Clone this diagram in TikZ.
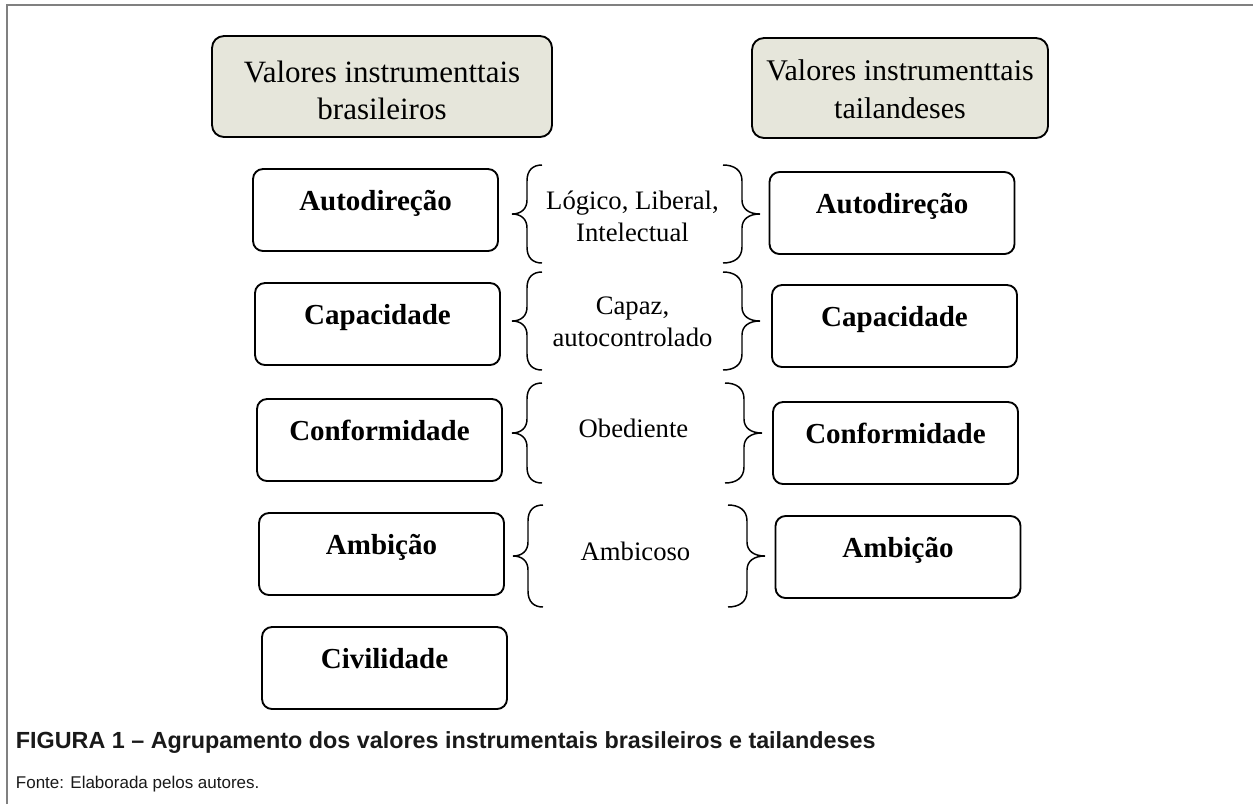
\documentclass[tikz,border=0pt]{standalone}
\usepackage{fontspec}
\setmainfont{Liberation Serif}
\setsansfont{Liberation Sans}
\usepackage{tikz}

\definecolor{headfill}{RGB}{230,230,219}
\definecolor{framegray}{RGB}{128,128,128}

\begin{document}
\begin{tikzpicture}[x=0.75pt,y=-0.75pt,line width=1.4pt]
    \tikzstyle{every node}=[inner sep=0pt]
    \tikzstyle{value}=[draw=black,rounded corners=7.5pt,minimum width=183.75pt,minimum height=61.5pt,text height=15pt,text depth=15pt,font=\fontsize{21.75}{26}\selectfont\bfseries]
    \tikzstyle{head}=[draw=black,fill=headfill,rounded corners=9pt,align=center]
    \tikzstyle{group}=[align=center,font=\fontsize{20}{24}\selectfont]
    \tikzstyle{curl}=[line width=1.1pt]
    \useasboundingbox (0,0) rectangle (1253,804);

    % Draw the frame
    \draw[framegray,line width=1.3pt] (7,804) -- (7,5) -- (1253,5);

    % Draw the two headers
    \node[head,minimum width=255pt,minimum height=75.75pt,font=\fontsize{23.25}{27.75}\selectfont] (HL) at (382,86.5) {\rule{0pt}{22.5pt}Valores instrumenttais\\brasileiros};
    \node[head,minimum width=222pt,minimum height=75pt,font=\fontsize{22.5}{28.5}\selectfont] (HR) at (900,88) {\rule{0pt}{17pt}Valores instrumenttais\\tailandeses};

    % Draw the brazilian values
    \foreach \name/\x/\y/\txt in {1/375.5/210/Autodireção,2/377.5/324/Capacidade,3/379.5/440/Conformidade,4/381.5/554/Ambição,5/384.5/668/Civilidade}
        \node[value] (L-\name) at (\x,\y) {\txt};

    % Draw the thai values
    \foreach \name/\x/\y/\txt in {1/892/213/Autodireção,2/894.5/326/Capacidade,3/895.5/443/Conformidade,4/898/557/Ambição}
        \node[value] (R-\name) at (\x,\y) {\txt};

    % Draw the shared adjectives and the braces round them
    \foreach \name/\top/\b/\lx/\rx/\ty/\txt in {1/165/98/542/723/216/{Lógico, Liberal,\\Intelectual},2/272/98/542/723/322/{Capaz,\\autocontrolado},3/383/100/542/725/428/Obediente,4/505/102/543/728/551/Ambicoso}{
        \node[group] (G-\name) at ({(\lx+\rx)/2},\ty) {\txt};
        \coordinate (BL-\name) at (\lx,\top);
        \coordinate (BR-\name) at (\rx,\top);
        \begin{scope}[shift={(BL-\name)}]
            \draw[curl] (0,0) .. controls (-9,0) and (-15,5) .. (-15,16) -- (-15,\b/2-14) .. controls (-15,\b/2-5) and (-21,\b/2) .. (-30,\b/2) .. controls (-21,\b/2) and (-15,\b/2+5) .. (-15,\b/2+14) -- (-15,\b-16) .. controls (-15,\b-5) and (-9,\b) .. (0,\b);
        \end{scope}
        \begin{scope}[shift={(BR-\name)}]
            \draw[curl] (0,0) .. controls (11,0) and (19,5) .. (19,16) -- (19,\b/2-14) .. controls (19,\b/2-5) and (26,\b/2) .. (37,\b/2) .. controls (26,\b/2) and (19,\b/2+5) .. (19,\b/2+14) -- (19,\b-16) .. controls (19,\b-5) and (11,\b) .. (0,\b);
        \end{scope}
    }

    % Caption
    \node[anchor=base west,text=black!90,font=\sffamily\bfseries\fontsize{17.5}{20}\selectfont] (cap) at (15,748) {FIGURA 1 – Agrupamento dos valores instrumentais brasileiros e tailandeses};
    \node[anchor=base west,text=black!90,font=\sffamily\fontsize{12.75}{15}\selectfont] (src) at (15,788) {Fonte: Elaborada pelos autores.};
\end{tikzpicture}
\end{document}
